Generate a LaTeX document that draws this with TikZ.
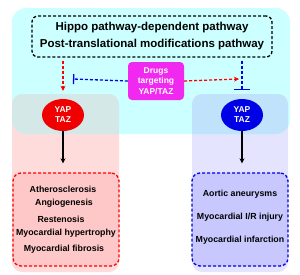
\documentclass[tikz,border=0pt]{standalone}
\usepackage{fontspec}
\setmainfont{Liberation Sans}
\usetikzlibrary{shapes.geometric,arrows.meta}
\definecolor{cyanbg}{RGB}{204,255,255}
\definecolor{pinkbg}{RGB}{255,220,220}
\definecolor{lavbg}{RGB}{228,228,255}
\definecolor{ovl}{RGB}{212,232,232}
\definecolor{ovr}{RGB}{192,226,250}
\definecolor{pinkbox}{RGB}{255,200,200}
\definecolor{bluebox}{RGB}{200,200,255}
\definecolor{mag}{RGB}{240,40,240}
\definecolor{myred}{RGB}{240,0,0}
\definecolor{myblue}{RGB}{0,0,230}
\tikzset{
  dsh/.style={dash pattern=on 3pt off 2pt, line width=1.3pt},
  yap/.style={ellipse, minimum width=42pt, minimum height=32pt, inner sep=0pt, text=white, font=\bfseries\fontsize{8.5}{10}\selectfont, align=center},
  disbox/.style={rectangle, rounded corners=8pt, dsh, minimum height=93pt},
}
\begin{document}
\begin{tikzpicture}[x=1pt,y=-1pt]
\useasboundingbox (0,0) rectangle (300,274);
% backgrounds
\fill[pinkbg, rounded corners=10pt] (12,94) rectangle (119,272);
\fill[lavbg, rounded corners=10pt] (192,94) rectangle (288,272);
\fill[cyanbg, rounded corners=14pt] (12,8) rectangle (290,134);
\begin{scope}
  \clip[rounded corners=14pt] (12,8) rectangle (290,134);
  \fill[ovl, rounded corners=10pt] (12,94) rectangle (119,272);
  \fill[ovr, rounded corners=10pt] (192,94) rectangle (288,272);
\end{scope}
% nodes
\node[draw=black, dsh, rounded corners=6pt, minimum width=240pt, minimum height=41pt, align=center,
  font=\bfseries\fontsize{11.5}{17}\selectfont] (top) at (152,36.5)
  {Hippo pathway-dependent pathway\\Post-translational modifications pathway};
\node[fill=mag, rounded corners=4pt, minimum width=56pt, minimum height=38pt, inner sep=1pt, text=white,
  align=center, font=\bfseries\fontsize{8.5}{10.5}\selectfont] (drugs) at (156,81) {Drugs\\targeting\\YAP/TAZ};
\node[yap, fill=myred] (yapL) at (63,115) {YAP\\TAZ};
\node[yap, fill=myblue] (yapR) at (242,115) {YAP\\TAZ};
\node[disbox, draw=red, fill=pinkbox, minimum width=106pt] (disL) at (66,219.5) {};
\node[disbox, draw=myblue, fill=bluebox, minimum width=96pt] (disR) at (240,219.5) {};
% disease texts
\begin{scope}[every node/.style={font=\bfseries\fontsize{8.8}{10}\selectfont, inner sep=0pt}]
\node (d1) at (63,189) {Atherosclerosis};
\node (d2) at (64,203.5) {Angiogenesis};
\node (d3) at (61,219) {Restenosis};
\node (d4) at (66,233.5) {Myocardial hypertrophy};
\node (d5) at (64,249) {Myocardial fibrosis};
\node (e1) at (240,194.5) {Aortic aneurysms};
\node (e2) at (240,217) {Myocardial I/R injury};
\node (e3) at (240,240) {Myocardial infarction};
\end{scope}
% connectors
\coordinate (cL) at (73,79);
\coordinate (cR) at (239,79);
\draw[red, dsh, -{Stealth[length=5pt,width=5pt]}] ([yshift=-3pt]top.south -| yapL) -- ([yshift=8pt]yapL.north);
\draw[myblue, dsh, -{Bar[width=10pt,line width=1.3pt]}] (drugs.west) -- (cL);
\draw[red, dsh, -{Stealth[length=5pt,width=5pt]}] (drugs.east) -- (cR);
\draw[myblue, dsh, -{Bar[width=16pt,line width=1.3pt]}] ([yshift=-3pt]top.south -| yapR) -- ([yshift=9pt]yapR.north);
\draw[black, line width=1.2pt, -{Stealth[length=5pt,width=5pt]}] (yapL.south) -- ([yshift=9pt]disL.north -| yapL);
\draw[black, line width=1.2pt, -{Stealth[length=5pt,width=5pt]}] (yapR.south) -- ([yshift=9pt]disR.north -| yapR);
\end{tikzpicture}
\end{document}
